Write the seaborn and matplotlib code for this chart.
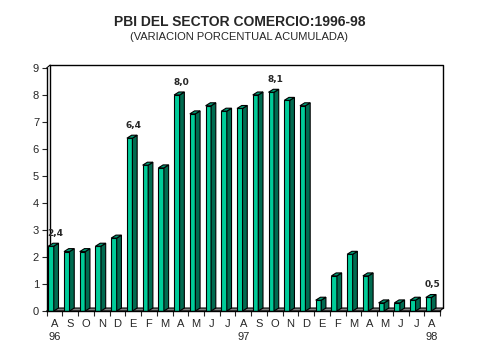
import matplotlib
matplotlib.use("Agg")
import matplotlib.pyplot as plt
from matplotlib.patches import Polygon
import numpy as np
import pandas as pd
import seaborn as sns

months = ["A", "S", "O", "N", "D", "E", "F", "M", "A", "M", "J", "J",
          "A", "S", "O", "N", "D", "E", "F", "M", "A", "M", "J", "J", "A"]
years = {0: "96", 12: "97", 24: "98"}
values = [2.4, 2.2, 2.2, 2.4, 2.7, 6.4, 5.4, 5.3, 8.0, 7.3, 7.6, 7.4,
          7.5, 8.0, 8.1, 7.8, 7.6, 0.4, 1.3, 2.1, 1.3, 0.3, 0.3, 0.4, 0.5]
labelled = {0: "2,4", 5: "6,4", 8: "8,0", 14: "8,1", 24: "0,5"}

front_c = "#00CC99"
side_c = "#006B50"
top_c = "#009E76"

sns.set_style("white")
plt.rcParams["font.family"] = ["Liberation Sans", "DejaVu Sans"]

df = pd.DataFrame({"pos": np.arange(len(values)), "val": values})

fig = plt.figure(figsize=(4.79, 3.59), dpi=100)
ax = fig.add_axes([0.0975, 0.1337, 0.821, 0.677])

sns.barplot(data=df, x="pos", y="val", color=front_c, width=0.35,
            edgecolor="black", linewidth=0.8, saturation=1, ax=ax, zorder=3)
bars = list(ax.patches)

dx, dy = 0.3, 0.11      # bar depth
wx, wy = 0.22, 0.11     # wall / floor offset
n = len(values)

# floor and back wall
floor = Polygon([(-0.5, 0), (-0.5 + wx, wy), (n - 0.5 + wx, wy), (n - 0.5, 0)],
                closed=True, facecolor="#808080", edgecolor="black", lw=0.8,
                zorder=1, clip_on=False)
ax.add_patch(floor)
ax.plot([-0.5 + wx, -0.5 + wx, n - 0.5 + wx, n - 0.5 + wx],
        [wy, 9 + wy, 9 + wy, wy], color="black", lw=1.0, zorder=1,
        clip_on=False)
ax.plot([-0.5, -0.5 + wx], [9, 9 + wy], color="black", lw=0.8, clip_on=False)

for i, p in enumerate(bars):
    x0 = p.get_x() - 0.225
    p.set_x(x0)
    w = p.get_width()
    h = p.get_height()
    x1 = x0 + w
    side = Polygon([(x1, 0), (x1 + dx, dy), (x1 + dx, h + dy), (x1, h)],
                   closed=True, facecolor=side_c, edgecolor="black", lw=0.8,
                   zorder=3, clip_on=False)
    top = Polygon([(x0, h), (x0 + dx, h + dy), (x1 + dx, h + dy), (x1, h)],
                  closed=True, facecolor=top_c, edgecolor="black", lw=0.8,
                  zorder=3, clip_on=False)
    ax.add_patch(side)
    ax.add_patch(top)
    if i in labelled:
        ax.text(x0 + (w + dx) / 2 + 0.12, h + 0.3, labelled[i], ha="center",
                va="bottom", fontsize=6.5, fontweight="bold",
                family=["DejaVu Sans"])

ax.set_xlim(-0.5, n - 0.5)
ax.set_ylim(0, 9)
ax.set_yticks(range(10))
ax.set_xticks(range(n))
ax.set_xticklabels([m + ("\n" + years[i] if i in years else "")
                    for i, m in enumerate(months)], linespacing=1.35)
ax.set_xticks(np.arange(-0.5, n, 1), minor=True)
ax.tick_params(axis="x", which="major", length=0, pad=6, labelsize=8)
ax.tick_params(axis="x", which="minor", length=3.5, width=0.8, direction="out",
               bottom=True)
ax.tick_params(axis="y", length=3.5, width=0.8, direction="out", left=True,
               pad=2, labelsize=8)
ax.set_xlabel("")
ax.set_ylabel("")
for s in ["top", "right"]:
    ax.spines[s].set_visible(False)
for s in ["left", "bottom"]:
    ax.spines[s].set_color("black")
    ax.spines[s].set_linewidth(1.0)
    ax.spines[s].set_zorder(4)

fig.text(0.5, 1 - 22.5 / 359, "PBI DEL SECTOR COMERCIO:1996-98", ha="center",
         va="center", fontsize=10, fontweight="bold")
fig.text(0.5, 1 - 36.5 / 359, "(VARIACION PORCENTUAL ACUMULADA)", ha="center",
         va="center", fontsize=8)

fig.savefig("out.png", dpi=100, facecolor="white")
